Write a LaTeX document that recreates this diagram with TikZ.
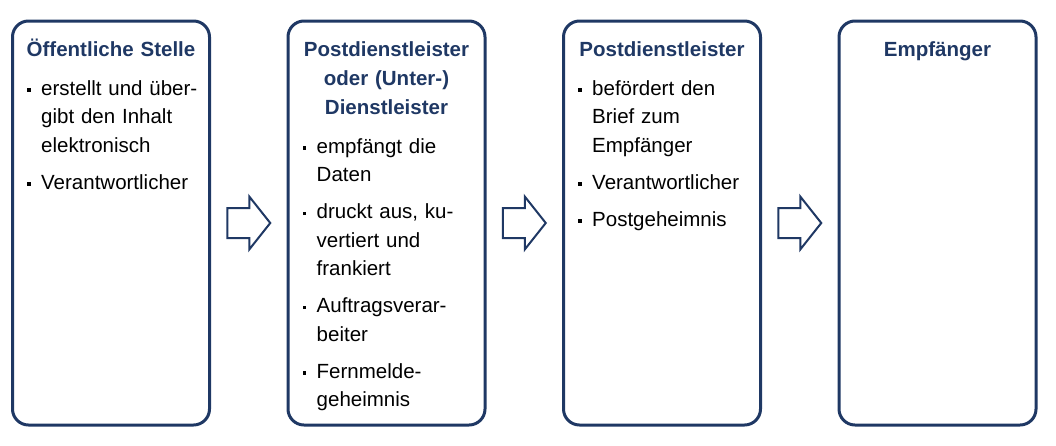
\documentclass[tikz,border=0pt]{standalone}
\usepackage{fontspec}
\setmainfont{Liberation Sans}
\usetikzlibrary{calc}
\definecolor{marine}{RGB}{31,56,100}
\newcommand{\pkt}{\leavevmode\llap{\raisebox{3.5pt}{\rule{3.5pt}{3.5pt}}\hspace{10.5pt}}}
\tikzset{
  kasten/.style={draw=marine,line width=3pt,rounded corners=16pt,
    minimum width=197pt,minimum height=404pt,inner sep=0pt},
  titel/.style={anchor=base,align=center,text width=190pt,text=marine,inner sep=0pt,
    font=\fontsize{20.5}{29}\selectfont\bfseries},
  liste/.style={anchor=base west,align=left,text width=165pt,inner sep=0pt,
    font=\fontsize{20.5}{28.5}\selectfont},
  % Blockpfeil
  pics/pfeil/.style={code={
    \draw[marine,line width=2pt,fill=white,line join=miter]
      (-21.5,-15) -- (0.5,-15) -- (0.5,-26.5) -- (21.5,0) -- (0.5,26.5) -- (0.5,15) -- (-21.5,15) -- cycle;
  }},
}

\begin{document}
\begin{tikzpicture}[x=1pt,y=-1pt]
  \useasboundingbox (0,0) rectangle (1056,445);
  \foreach \t [count=\i] in {{Öffentliche Stelle},{Postdienstleister\\oder (Unter-)\\Dienstleister},
    Postdienstleister,Empfänger}
  {
    \pgfmathsetmacro{\x}{111+(\i-1)*275.5}
    \node[kasten] (k\i) at (\x,223) {};
    \node[titel] (t\i) at (\x,56) {\t};
  }
  \node[liste] (l1) at (41,95) {\pkt erstellt und über-\\gibt den Inhalt\\elektronisch\\[8.5pt]
    \pkt Verantwortlicher};
  \node[liste] (l2) at (316.5,153) {\pkt empfängt die\\Daten\\[8.5pt]
    \pkt druckt aus, ku-\\vertiert und\\frankiert\\[8.5pt]
    \pkt Auftragsverar-\\beiter\\[8.5pt]
    \pkt Fernmelde-\\geheimnis};
  \node[liste] (l3) at (592,95) {\pkt befördert den\\Brief zum\\Empfänger\\[8.5pt]
    \pkt Verantwortlicher\\[8.5pt]
    \pkt Postgeheimnis};
  \foreach \i/\j in {1/2,2/3,3/4}
    \pic at ($(k\i.east)!0.5!(k\j.west)$) {pfeil};
\end{tikzpicture}
\end{document}
